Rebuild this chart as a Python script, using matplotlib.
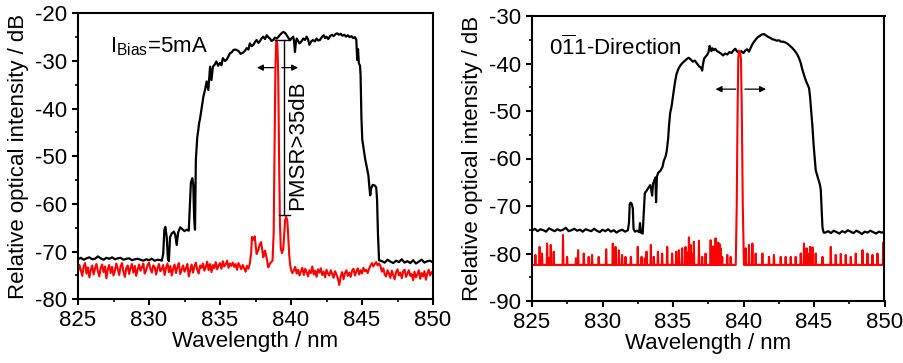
import numpy as np
import matplotlib
matplotlib.use("Agg")
import matplotlib.pyplot as plt
from matplotlib.ticker import MultipleLocator

plt.rcParams['font.family'] = ['Liberation Sans', 'DejaVu Sans']
plt.rcParams['mathtext.fontset'] = 'custom'
plt.rcParams['mathtext.rm'] = 'Liberation Sans'
plt.rcParams['mathtext.it'] = 'Liberation Sans:italic'
plt.rcParams['mathtext.bf'] = 'Liberation Sans:bold'
plt.rcParams['axes.unicode_minus'] = False

# ---------------- left panel: I_Bias = 5 mA ----------------
# black spectrum: flat floor, emission band, flat floor
black_l_floor_a = [-71.6, -71.3, -71.7, -71.4, -71.2, -71.6, -71.5, -71.0, -71.4, -71.7,
                   -71.3, -71.5, -71.2, -71.6, -71.4, -71.3, -71.7, -71.5, -71.4, -71.8,
                   -71.6, -71.5, -71.7, -71.9, -71.6, -71.8, -71.5, -71.9, -71.7, -71.8]   # 825.0 .. 830.8, 0.2 nm
black_l_band_wl = [830.9, 831.0, 831.08, 831.15, 831.25, 831.33, 831.4, 831.48, 831.6, 831.75,
                   831.85, 831.95, 832.05, 832.2, 832.35, 832.5, 832.65, 832.8, 832.88, 832.95,
                   833.05, 833.12, 833.18, 833.24, 833.3, 833.4, 833.47, 833.53, 833.59, 833.7,
                   833.83, 833.95, 834.06, 834.18, 834.3, 834.4, 834.5, 834.62, 834.74, 834.87,
                   835.0, 835.1, 835.2, 835.35, 835.47, 835.6, 835.7, 835.82, 835.94, 836.1,
                   836.3, 836.45, 836.6, 836.75, 836.88, 837.0, 837.1, 837.22, 837.35, 837.47,
                   837.58, 837.7, 837.8, 837.92, 838.05, 838.17, 838.29, 838.4, 838.52, 838.63,
                   838.75, 838.87, 838.99, 839.1, 839.2, 839.33, 839.46, 839.58, 839.7, 839.82,
                   839.93, 840.05, 840.16, 840.22, 840.28, 840.34, 840.4, 840.5, 840.6, 840.73,
                   840.86, 840.98, 841.1, 841.2, 841.3, 841.42, 841.55, 841.68, 841.8, 841.92,
                   842.04, 842.17, 842.3, 842.4, 842.5, 842.62, 842.75, 842.88, 843.0, 843.12,
                   843.25, 843.38, 843.5, 843.62, 843.75, 843.88, 844.0, 844.12, 844.25, 844.38,
                   844.5, 844.6, 844.66, 844.72, 844.78, 844.86, 844.9, 844.96, 845.02, 845.12,
                   845.22, 845.35, 845.45, 845.52, 845.58, 845.64, 845.75, 845.88, 846.0, 846.06,
                   846.12]
black_l_band_db = [-71.9, -70.5, -65.5, -64.8, -67.0, -71.5, -72.0, -67.0, -66.2, -65.8,
                   -66.5, -68.6, -66.0, -64.9, -65.3, -65.7, -65.4, -65.6, -60.0, -55.5,
                   -54.6, -56.0, -63.0, -65.4, -50.7, -46.0, -44.5, -43.0, -42.2, -40.0,
                   -37.5, -36.0, -34.3, -36.1, -31.2, -34.0, -31.2, -30.8, -30.1, -31.0,
                   -30.4, -30.9, -29.4, -30.0, -29.7, -29.0, -28.4, -28.2, -27.7, -27.6,
                   -27.9, -28.5, -28.3, -27.9, -27.3, -27.6, -26.3, -26.9, -26.6, -26.0,
                   -25.6, -26.2, -25.9, -25.3, -24.9, -25.4, -24.6, -25.0, -25.3, -25.8,
                   -25.6, -25.1, -25.3, -25.0, -24.6, -24.2, -23.9, -24.1, -24.6, -25.2,
                   -25.6, -25.2, -24.9, -26.0, -28.1, -26.2, -25.3, -25.8, -26.3, -25.9,
                   -25.3, -25.6, -24.9, -25.5, -26.6, -25.9, -25.6, -25.9, -25.3, -25.7,
                   -25.6, -25.0, -24.6, -25.2, -24.9, -25.4, -24.8, -24.5, -24.8, -24.4,
                   -24.2, -24.5, -24.3, -24.7, -24.5, -24.9, -24.6, -25.0, -24.8, -25.2,
                   -25.0, -25.6, -29.8, -27.5, -30.5, -31.0, -33.0, -42.0, -46.5, -48.5,
                   -50.5, -52.5, -54.0, -56.5, -58.2, -56.8, -56.0, -56.1, -56.5, -59.0,
                   -66.0]
black_l_floor_b = [-71.8, -72.0, -72.3, -71.7, -72.1, -72.4, -71.9, -72.2, -71.6, -72.3,
                   -72.0, -72.4, -71.8, -72.5, -72.1, -71.7, -72.3, -72.0, -71.9, -72.3]   # 846.2 .. 850.0, 0.2 nm

# red spectrum: noise floor, side modes and lasing mode, noise floor
red_l_floor_a = [-74.2, -72.8, -73.9, -75.1, -73.0, -72.4, -74.6, -73.3, -75.4, -73.8,
                 -72.9, -74.8, -73.5, -72.6, -74.1, -75.2, -73.4, -72.7, -74.3, -73.1,
                 -75.6, -73.7, -72.8, -74.5, -73.2, -75.0, -74.0, -72.5, -73.6, -74.9,
                 -73.1, -72.4, -74.2, -75.3, -73.5, -72.9, -74.7, -73.4, -72.6, -74.4,
                 -73.0, -75.1, -73.8, -72.7, -74.0, -73.3, -72.5, -74.6, -73.9, -72.8,
                 -72.3, -73.6, -74.4, -72.9, -73.2, -74.8, -73.5, -72.6, -74.1, -73.7,
                 -72.8, -74.9, -73.4, -72.5, -74.3, -73.0, -75.0, -73.6, -72.7, -74.5,
                 -73.3, -72.4, -74.7, -73.8, -72.9, -74.2, -73.5, -72.6, -75.2, -73.9,
                 -72.7, -74.4, -73.1, -72.3, -73.8, -74.6, -72.9, -73.4, -72.5, -74.0,
                 -73.2, -72.1, -73.9, -72.6, -74.3, -72.8, -73.5, -72.2, -73.7, -72.9,
                 -72.4, -73.6, -72.0, -73.1, -72.7, -71.9, -73.4, -72.5, -73.0, -72.3,
                 -73.2, -72.6, -73.8, -72.4, -73.0, -73.7, -72.8, -73.5, -74.2, -73.0,
                 -73.6]   # 825.0 .. 837.0, 0.1 nm
red_l_mode_wl = [837.1, 837.2, 837.25, 837.35, 837.45, 837.52, 837.58, 837.68, 837.8, 837.89,
                 837.97, 838.05, 838.12, 838.17, 838.25, 838.32, 838.4, 838.5, 838.6, 838.7,
                 838.78, 838.84, 838.9, 838.95, 838.99, 839.04, 839.1, 839.16, 839.22, 839.28,
                 839.36, 839.45, 839.52, 839.58, 839.66, 839.74, 839.8, 839.87, 839.93, 840.0,
                 840.1, 840.2]
red_l_mode_db = [-72.5, -70.0, -66.9, -67.5, -66.8, -69.0, -70.5, -69.8, -68.5, -68.0,
                 -69.5, -71.2, -70.2, -69.8, -70.8, -72.0, -73.3, -72.6, -72.2, -71.9,
                 -66.0, -48.0, -32.0, -26.5, -25.7, -26.5, -33.0, -50.0, -64.0, -69.2,
                 -70.3, -69.5, -66.5, -63.5, -62.7, -63.5, -66.5, -70.5, -72.5, -73.8,
                 -74.5, -73.9]
red_l_floor_b = [-73.2, -74.6, -73.8, -75.0, -74.1, -73.4, -74.9, -73.6, -74.3, -75.2,
                 -73.9, -74.5, -73.1, -74.8, -74.0, -75.3, -73.7, -74.4, -73.5, -74.9,
                 -74.2, -75.4, -73.8, -74.6, -75.0, -73.9, -74.7, -75.5, -74.1, -74.8,
                 -75.6, -77.0, -75.2, -74.3, -75.8, -74.5, -73.9, -75.1, -74.4, -75.3,
                 -74.0, -73.6, -75.0, -74.2, -73.5, -74.8, -73.9, -74.6, -73.4, -74.1,
                 -73.8, -74.5, -73.6, -72.9, -72.4, -73.1, -72.6, -72.2, -72.9, -72.5,
                 -73.0, -74.2, -73.5, -74.8, -75.2, -73.9, -74.6, -75.5, -74.0, -74.9,
                 -75.8, -74.3, -73.7, -75.0, -74.4, -75.6, -74.1, -73.8, -75.3, -74.6,
                 -73.9, -75.1, -74.7, -76.0, -74.2, -75.4, -74.8, -73.9, -75.7, -74.5,
                 -75.2, -74.1, -75.9, -74.6, -73.8, -75.0, -74.3, -74.8]   # 840.3 .. 850.0, 0.1 nm

# ---------------- right panel: 0-11 direction ----------------
black_r_floor_a = [-75.2, -74.8, -75.3, -74.9, -75.1, -75.4, -74.7, -75.0, -75.3, -74.9,
                   -75.2, -75.0, -74.6, -75.3, -75.1, -74.8, -75.2, -75.0, -75.4, -74.9,
                   -75.1, -75.3, -74.8, -75.2, -75.5, -75.0, -75.3, -74.9, -75.4, -75.1,
                   -75.6, -75.2, -75.0, -75.4, -75.1]   # 825.0 .. 831.8, 0.2 nm
black_r_band_wl = [831.88, 831.93, 832.0, 832.08, 832.15, 832.2, 832.3, 832.45, 832.6, 832.66,
                   832.72, 832.85, 832.95, 833.0, 833.12, 833.25, 833.38, 833.45, 833.52, 833.58,
                   833.68, 833.75, 833.8, 833.86, 833.95, 834.1, 834.25, 834.35, 834.47, 834.55,
                   834.65, 834.72, 834.8, 834.9, 835.0, 835.06, 835.15, 835.25, 835.4, 835.55,
                   835.7, 835.85, 836.0, 836.12, 836.24, 836.4, 836.55, 836.7, 836.85, 837.0,
                   837.07, 837.12, 837.2, 837.3, 837.42, 837.52, 837.6, 837.66, 837.72, 837.8,
                   837.9, 838.0, 838.12, 838.25, 838.4, 838.55, 838.7, 838.85, 839.0, 839.15,
                   839.3, 839.42, 839.55, 839.7, 839.85, 840.0, 840.12, 840.25, 840.39, 840.5,
                   840.62, 840.75, 840.88, 841.0, 841.15, 841.3, 841.45, 841.6, 841.75, 841.9,
                   842.05, 842.2, 842.35, 842.5, 842.65, 842.8, 842.99, 843.15, 843.3, 843.45,
                   843.6, 843.75, 843.85, 843.94, 844.05, 844.15, 844.25, 844.35, 844.45, 844.55,
                   844.65, 844.72, 844.8, 844.89, 844.97, 845.05, 845.12, 845.22, 845.32, 845.42,
                   845.48, 845.54, 845.6, 845.68]
black_r_band_db = [-73.5, -69.6, -69.3, -69.6, -70.5, -74.8, -75.4, -75.2, -75.5, -73.6,
                   -75.6, -75.8, -70.0, -67.3, -66.8, -66.2, -65.6, -66.5, -67.8, -65.4,
                   -64.6, -64.0, -69.2, -63.8, -63.0, -62.6, -61.8, -60.5, -59.6, -58.5,
                   -56.0, -53.0, -50.4, -49.0, -46.8, -45.6, -43.8, -42.2, -41.0, -40.3,
                   -39.8, -39.4, -39.0, -38.8, -39.1, -39.6, -39.4, -40.0, -40.6, -40.9,
                   -41.5, -40.3, -39.0, -38.6, -38.2, -37.6, -36.3, -36.8, -37.4, -36.8,
                   -37.2, -36.9, -37.4, -37.6, -37.9, -38.3, -37.9, -38.1, -37.6, -37.8,
                   -37.2, -36.9, -37.5, -37.7, -37.4, -37.8, -37.3, -37.0, -37.5, -36.8,
                   -36.0, -35.4, -34.9, -34.5, -34.2, -33.9, -33.8, -34.1, -34.4, -34.6,
                   -34.9, -35.0, -35.2, -35.1, -35.4, -35.4, -35.6, -35.9, -36.3, -36.7,
                   -37.2, -37.8, -38.3, -38.9, -39.8, -41.0, -42.0, -43.0, -43.8, -44.5,
                   -45.2, -47.0, -50.0, -53.3, -57.0, -60.0, -62.4, -63.5, -64.5, -65.5,
                   -66.6, -70.5, -74.5, -75.6]
black_r_floor_b = [-75.6, -75.3, -75.7, -75.2, -75.5, -75.8, -75.3, -75.6, -75.1, -75.4,
                   -75.7, -75.2, -75.5, -75.9, -75.4, -75.6, -75.2, -75.5, -75.8, -75.4,
                   -75.6, -75.5]   # 845.8 .. 850.0, 0.2 nm

# red spectrum: detector floor with sparse noise spikes, single lasing mode
red_r_floor = -82.4
red_r_spike_wl = [825.24, 825.54, 825.71, 826.07, 826.2, 826.33, 826.54, 827.20, 827.49, 828.12,
                  828.27, 828.67, 829.02, 829.26, 829.73, 830.26, 830.73, 830.82, 830.92, 831.16,
                  831.39, 831.63, 832.01, 832.50, 832.77, 833.0, 833.12, 833.43, 833.64, 833.93,
                  834.23, 834.59, 834.94, 835.23, 835.42, 835.65, 835.89, 836.05, 836.13, 836.2,
                  836.27, 836.38, 836.48, 836.84, 837.07, 837.31, 837.67, 837.85, 838.02, 838.1,
                  838.21, 838.3, 838.38, 838.49, 838.85, 839.09, 840.15, 840.39, 840.63, 840.86,
                  841.34, 841.81, 842.16, 842.64, 842.99, 843.35, 843.70, 844.06, 844.29, 844.38,
                  844.48, 844.6, 844.72, 844.89, 845.12, 845.60, 846.19, 846.54, 846.90, 847.25,
                  847.61, 847.96, 848.44, 848.79, 849.15, 849.50, 849.91]
red_r_spike_db = [-80.3, -78.6, -80.0, -77.9, -80.9, -78.2, -79.6, -76.1, -80.7, -81.0,
                  -79.3, -80.0, -80.7, -80.3, -80.7, -79.1, -77.9, -80.4, -78.6, -79.3,
                  -80.3, -80.7, -80.7, -78.6, -80.7, -81.0, -79.6, -78.2, -80.7, -79.6,
                  -80.0, -78.6, -80.0, -79.6, -79.3, -78.9, -78.6, -79.8, -76.6, -78.9,
                  -78.2, -80.2, -77.5, -77.3, -80.7, -80.0, -77.2, -78.5, -76.8, -79.5,
                  -77.7, -78.0, -78.9, -80.7, -80.3, -80.7, -78.9, -78.2, -77.9, -80.0,
                  -80.0, -80.7, -80.3, -80.7, -80.7, -80.7, -80.7, -80.0, -77.9, -79.2,
                  -78.9, -80.1, -78.6, -78.7, -80.0, -80.7, -78.6, -80.3, -80.1, -80.3,
                  -80.7, -80.0, -79.3, -80.0, -80.3, -80.0, -77.7]
red_r_mode_wl = [839.45, 839.52, 839.58, 839.63, 839.68, 839.75, 839.82, 839.88, 839.95, 840.03]
red_r_mode_db = [-82.4, -70.0, -50.0, -39.0, -37.3, -37.5, -39.0, -50.0, -70.0, -82.4]


def floor_wl(start, n, step):
    return start + step * np.arange(n)


def spiky_trace(floor, spike_wl, spike_db, mode_wl, mode_db, start, stop, half=0.03):
    """Polyline over a flat floor with narrow spikes and one lasing mode."""
    order = np.argsort(spike_wl)
    wl = [start]
    db = [floor]
    s_wl = np.asarray(spike_wl)[order]
    s_db = np.asarray(spike_db)[order]
    mode_done = False
    for w, d in zip(s_wl, s_db):
        if not mode_done and w > mode_wl[0]:
            wl += list(mode_wl)
            db += list(mode_db)
            mode_done = True
        wl += [w - half, w, w + half]
        db += [floor, d, floor]
    if not mode_done:
        wl += list(mode_wl)
        db += list(mode_db)
    wl.append(stop)
    db.append(floor)
    return np.array(wl), np.array(db)


bl_wl = np.concatenate([floor_wl(825.0, len(black_l_floor_a), 0.2), black_l_band_wl,
                        floor_wl(846.2, len(black_l_floor_b), 0.2)])
bl_db = np.concatenate([black_l_floor_a, black_l_band_db, black_l_floor_b])
rl_wl = np.concatenate([floor_wl(825.0, len(red_l_floor_a), 0.1), red_l_mode_wl,
                        floor_wl(840.3, len(red_l_floor_b), 0.1)])
rl_db = np.concatenate([red_l_floor_a, red_l_mode_db, red_l_floor_b])

br_wl = np.concatenate([floor_wl(825.0, len(black_r_floor_a), 0.2), black_r_band_wl,
                        floor_wl(845.8, len(black_r_floor_b), 0.2)])
br_db = np.concatenate([black_r_floor_a, black_r_band_db, black_r_floor_b])
rr_wl, rr_db = spiky_trace(red_r_floor, red_r_spike_wl, red_r_spike_db,
                           red_r_mode_wl, red_r_mode_db, 825.0, 850.0)

x_ticks = [825, 830, 835, 840, 845, 850]

fig = plt.figure(figsize=(9.04, 3.63), dpi=100)
ax1 = fig.add_axes([78 / 904, 63.7 / 363, 355 / 904, 286 / 363])
ax2 = fig.add_axes([532 / 904, 62 / 363, 352.5 / 904, 285 / 363])


def style(ax, ylim, yticks):
    ax.set_xlim(825, 850)
    ax.set_ylim(*ylim)
    ax.set_xticks(x_ticks)
    ax.set_yticks(yticks)
    ax.xaxis.set_minor_locator(MultipleLocator(2.5))
    ax.yaxis.set_minor_locator(MultipleLocator(5))
    for sp in ax.spines.values():
        sp.set_linewidth(1.5)
    ax.tick_params(which='major', direction='out', length=4, width=1.5,
                   labelsize=16, pad=4, top=False, right=False)
    ax.tick_params(which='minor', direction='out', length=2.5, width=1.2,
                   top=False, right=False)
    ax.set_xlabel('Wavelength / nm', fontsize=16, labelpad=0)
    ax.set_ylabel('Relative optical intensity / dB', fontsize=16, labelpad=4)


style(ax1, (-80, -20), [-80, -70, -60, -50, -40, -30, -20])
style(ax2, (-90, -30), [-90, -80, -70, -60, -50, -40, -30])

ax1.plot(bl_wl, bl_db, color='black', lw=1.6)
ax1.plot(rl_wl, rl_db, color='#ff0000', lw=1.5)
ax2.plot(br_wl, br_db, color='black', lw=1.6)
ax2.plot(rr_wl, rr_db, color='#ff0000', lw=1.5)

# side-mode suppression marker
ax1.plot([839.5, 839.5], [-25.7, -62.3], color='black', lw=1.0)
ax1.plot([838.87, 839.93], [-25.7, -25.7], color='black', lw=1.0)
ax1.plot([839.18, 839.93], [-62.3, -62.3], color='black', lw=1.0)
ax1.text(840.45, -47.6, 'PMSR>35dB', rotation=90, ha='center', va='center', fontsize=16)

arrow = dict(arrowstyle='-|>', color='black', lw=0.9, mutation_scale=9, shrinkA=0, shrinkB=0)
ax1.annotate('', xy=(837.6, -31.4), xytext=(838.8, -31.4), arrowprops=arrow)
ax1.annotate('', xy=(840.5, -31.4), xytext=(839.35, -31.4), arrowprops=arrow)
ax2.annotate('', xy=(838.02, -45.4), xytext=(839.45, -45.4), arrowprops=arrow)
ax2.annotate('', xy=(841.6, -45.4), xytext=(840.1, -45.4), arrowprops=arrow)

ax1.text(827.25, -27.0, r'I$_{\mathrm{Bias}}$=5mA', fontsize=16, ha='left', va='center')
ax2.text(826.19, -36.7, r'0$\overline{\mathrm{1}}$1-Direction', fontsize=16, ha='left', va='center')

fig.savefig('out.png', dpi=100)
